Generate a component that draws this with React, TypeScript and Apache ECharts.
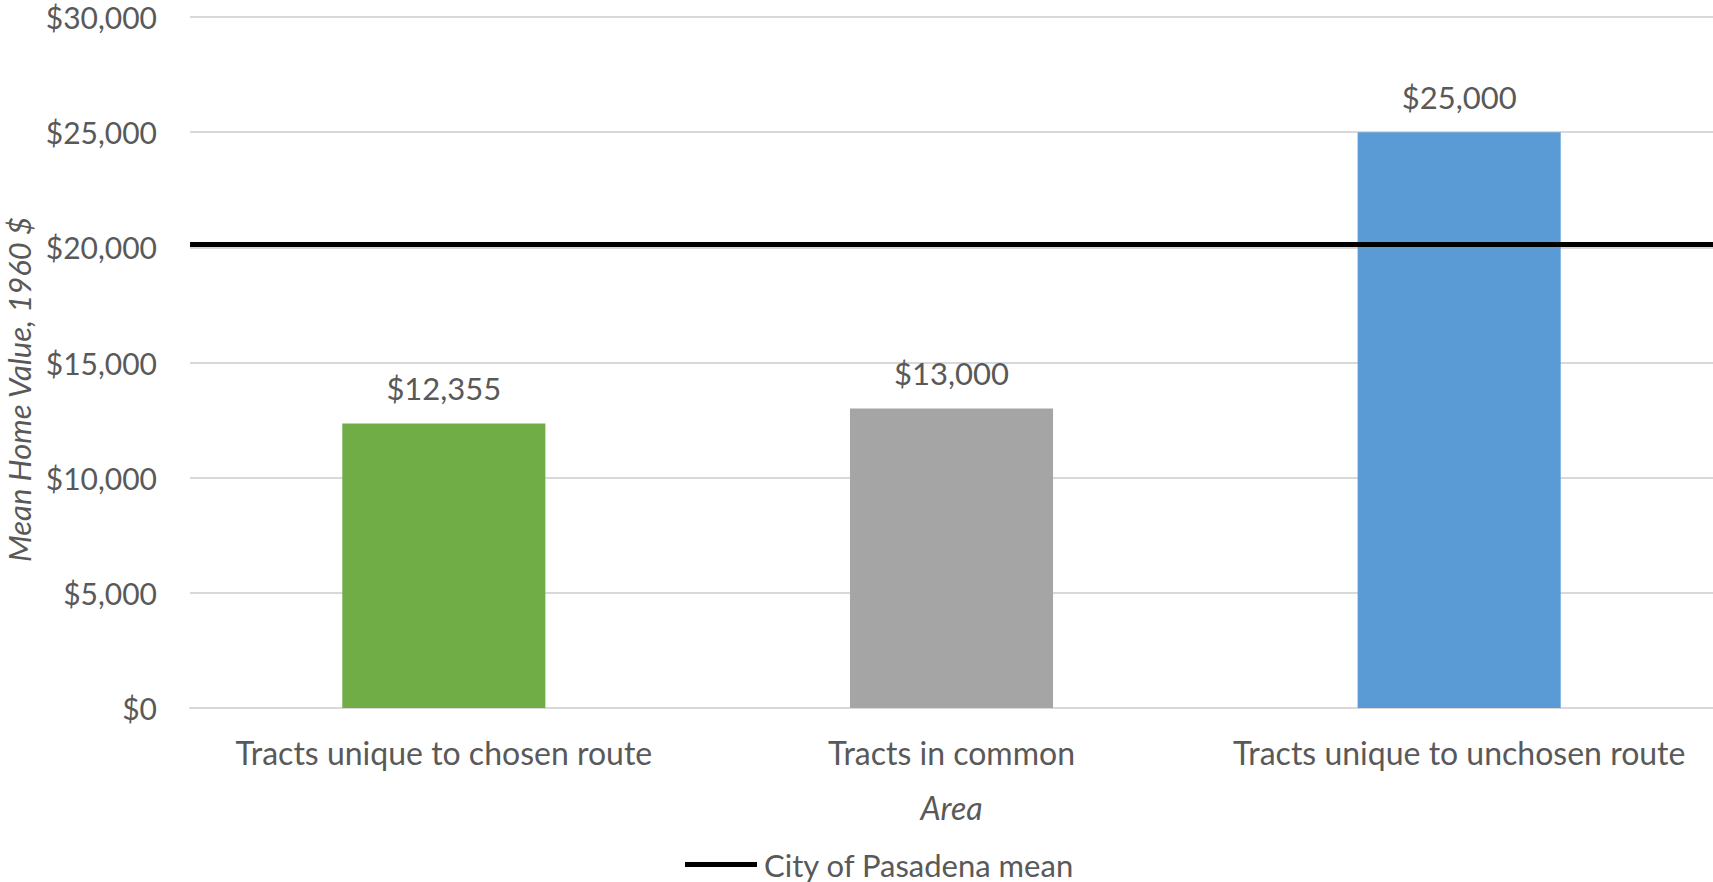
import React, { useEffect, useRef } from "react";
import * as echarts from "echarts";

const categories = [
  "Tracts unique to chosen route",
  "Tracts in common",
  "Tracts unique to unchosen route",
];
const meanHomeValues = [12355, 13000, 25000];
const barColors = ["#70ad47", "#a5a5a5", "#5b9bd5"];
const cityMean = 20130;
const yTicks = { min: 0, max: 30000, interval: 5000 };
const seriesNames = { bars: "Mean Home Value", mean: "City of Pasadena mean" };
const axisNames = { x: "Area", y: "Mean Home Value, 1960 $" };

const fmt = (v: number) => "$" + Math.round(v).toLocaleString("en-US");

export default function App() {
  const ref = useRef<HTMLDivElement>(null);
  useEffect(() => {
    if (!ref.current) return;
    const chart = echarts.init(ref.current, undefined, { renderer: "svg" });
    const font = "Lato";
    const textColor = "#595959";
    chart.setOption({
      animation: false,
      backgroundColor: "#ffffff",
      textStyle: { fontFamily: font },
      grid: {
        left: 190,
        right: 0,
        top: 17,
        bottom: 174,
        containLabel: false,
        outerBoundsMode: "none",
      },
      legend: {
        data: [{ name: seriesNames.mean, icon: "rect" }],
        left: 685,
        top: 849,
        padding: 0,
        itemWidth: 72,
        itemHeight: 5,
        itemGap: 10,
        textStyle: {
          color: textColor,
          fontSize: 31,
          lineHeight: 31,
          fontFamily: font,
          padding: [0, 0, 0, 2],
        },
      },
      xAxis: {
        type: "category",
        data: categories,
        name: axisNames.x,
        nameLocation: "middle",
        nameGap: 83,
        nameTextStyle: { color: textColor, fontSize: 32, fontStyle: "italic", fontFamily: font },
        axisLine: { show: true, lineStyle: { color: "#d9d9d9", width: 2 } },
        axisTick: { show: false },
        axisLabel: { color: textColor, fontSize: 32, margin: 28, interval: 0, fontFamily: font },
      },
      yAxis: {
        type: "value",
        min: yTicks.min,
        max: yTicks.max,
        interval: yTicks.interval,
        name: axisNames.y,
        nameLocation: "middle",
        nameGap: 154,
        nameTextStyle: {
          color: textColor,
          fontSize: 31,
          lineHeight: 31,
          fontStyle: "italic",
          fontFamily: font,
          padding: [0, 54, 0, 0],
        },
        axisLine: { show: false },
        axisTick: { show: false },
        axisLabel: {
          color: textColor,
          fontSize: 30,
          lineHeight: 30,
          margin: 33,
          formatter: fmt,
          fontFamily: font,
        },
        splitLine: { lineStyle: { color: "#d9d9d9", width: 2 } },
      },
      series: [
        {
          name: seriesNames.bars,
          type: "bar",
          barCategoryGap: "60%",
          data: meanHomeValues.map((v, i) => ({ value: v, itemStyle: { color: barColors[i] } })),
          label: {
            show: true,
            position: "top",
            distance: 20,
            color: textColor,
            fontSize: 31,
            fontFamily: font,
            formatter: (p: any) => fmt(p.value),
          },
          z: 2,
        },
        {
          name: seriesNames.mean,
          type: "line",
          data: [],
          symbol: "none",
          itemStyle: { color: "#000000" },
          lineStyle: { color: "#000000", width: 5 },
          markLine: {
            silent: true,
            symbol: ["none", "none"],
            label: { show: false },
            lineStyle: { color: "#000000", width: 5, type: "solid" },
            data: [{ yAxis: cityMean }],
            z: 5,
          },
        },
      ],
    });
    return () => chart.dispose();
  }, []);
  return (
    <div
      ref={ref}
      style={{ position: "absolute", left: 0, top: 0, width: 1713, height: 882 }}
    />
  );
}
